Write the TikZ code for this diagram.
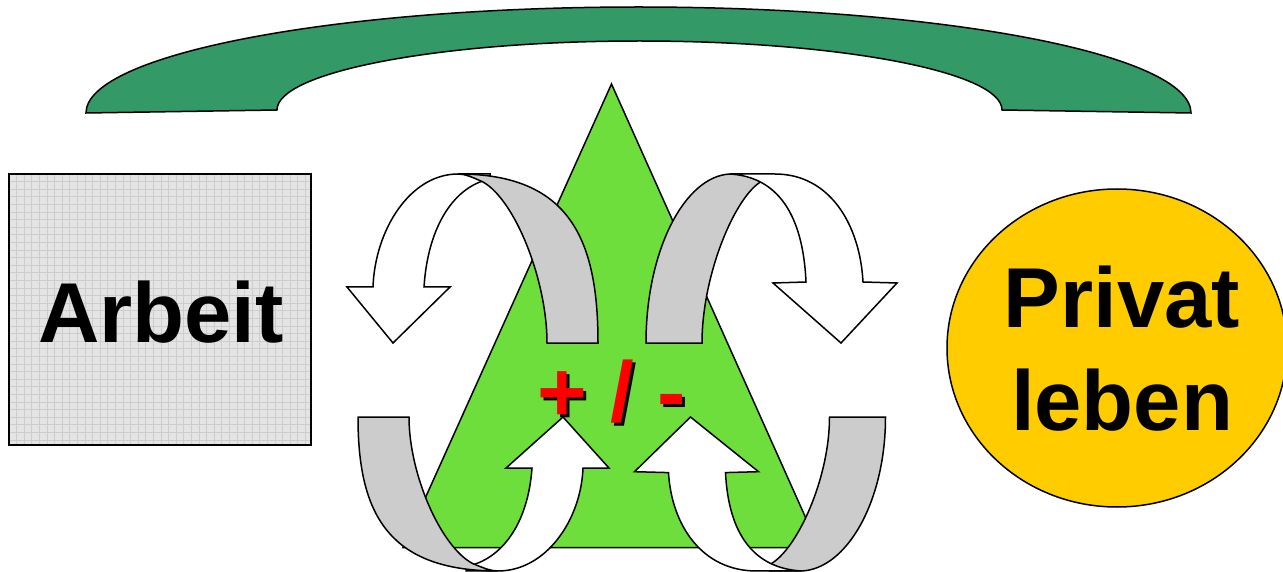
\documentclass[tikz,border=0pt]{standalone}
\usepackage{fontspec}
\setmainfont{Liberation Sans}
\usetikzlibrary{shapes.geometric}
\definecolor{arcgreen}{HTML}{339966}
\definecolor{trigreen}{HTML}{6EDE3C}
\definecolor{ribbongray}{HTML}{CCCCCC}
\definecolor{boxgray}{HTML}{E4E4E4}
\definecolor{gridgray}{HTML}{CDCDCD}
\definecolor{gold}{HTML}{FFCC00}
\definecolor{signred}{HTML}{FF0000}
\tikzset{
  outline/.style={draw=black, line width=1.5pt},
  ribbon/.style={outline, fill=white},
  ribbonback/.style={outline, fill=ribbongray},
  bigtext/.style={font=\fontsize{85}{103}\selectfont\bfseries, inner sep=0pt},
  gridline/.style={gridgray, line width=0.8pt},
}
% upper-left curved arrow (points down-left)
\newcommand\ArrowA{%
  \path[ribbon] (458,174) .. controls (410,174) and (375,230) .. (373,287)
    -- (347,287) -- (393,343) -- (450,287) -- (424,287)
    .. controls (428,225) and (455,186) .. (490,179) -- (490,174) -- cycle;
  \path[ribbonback] (458,174) .. controls (570,174) and (598,240) .. (598,343)
    -- (547,343) .. controls (547,280) and (515,200) .. (483,182)
    .. controls (472,177) and (465,174) .. (458,174) -- cycle;
}
% upper-right curved arrow (points down-right)
\newcommand\ArrowB{%
  \path[ribbonback] (730,174) .. controls (685,176) and (646,250) .. (646,343)
    -- (702,343) .. controls (702,275) and (735,196) .. (762,181) -- (762,174) -- cycle;
  \path[ribbon] (730,174) -- (775,174) .. controls (830,174) and (860,225) .. (863,282)
    -- (897,283) -- (841,343) -- (773,283) -- (806,282)
    .. controls (803,215) and (778,177) .. (730,174) -- cycle;
}
\begin{document}
\begin{tikzpicture}[x=1pt, y=-1pt]
\useasboundingbox (0,0) rectangle (1283,572);

% green arch
\path[outline, fill=arcgreen] (86,113)
  arc[start angle=180, end angle=360, x radius=552.5, y radius=106]
  -- (1002,110)
  arc[start angle=360, end angle=180, x radius=362.5, y radius=69]
  -- cycle;

% Arbeit box with grid texture
\fill[boxgray] (9,174) rectangle (311,445);
\foreach \k in {1,...,39} {
  \draw[gridline] ({9+7.6*\k},174) -- ({9+7.6*\k},445);
}
\foreach \k in {1,...,35} {
  \draw[gridline] (9,{174+7.6*\k}) -- (311,{174+7.6*\k});
}
\draw[line width=1.5pt] (9,174) rectangle (311,445);
\node[bigtext, anchor=base] (arbeit) at (161,342) {Arbeit};

% Privat leben ellipse
\node[ellipse, outline, fill=gold, minimum width=340pt, minimum height=318pt,
      inner sep=0pt] (privat) at (1117,348) {};
\node[bigtext, align=center] (privattext) at (1122,349) {Privat\\leben};

% triangle
\path[outline, fill=trigreen] (611.5,84) -- (819,547.5) -- (403,547.5) -- cycle;

% + / - with shadow
\node[bigtext, anchor=base west, text=black] (pmshadow) at (540,424) {+ / -};
\node[bigtext, anchor=base west, text=signred] (pm) at (537,421) {+ / -};

% curved arrows
\ArrowA
\ArrowB
\begin{scope}[shift={(956,729.5)}, xscale=-1, yscale=-0.911]
  \ArrowA
\end{scope}
\begin{scope}[shift={(1531.5,729.5)}, xscale=-1, yscale=-0.911]
  \ArrowB
\end{scope}
\end{tikzpicture}
\end{document}
